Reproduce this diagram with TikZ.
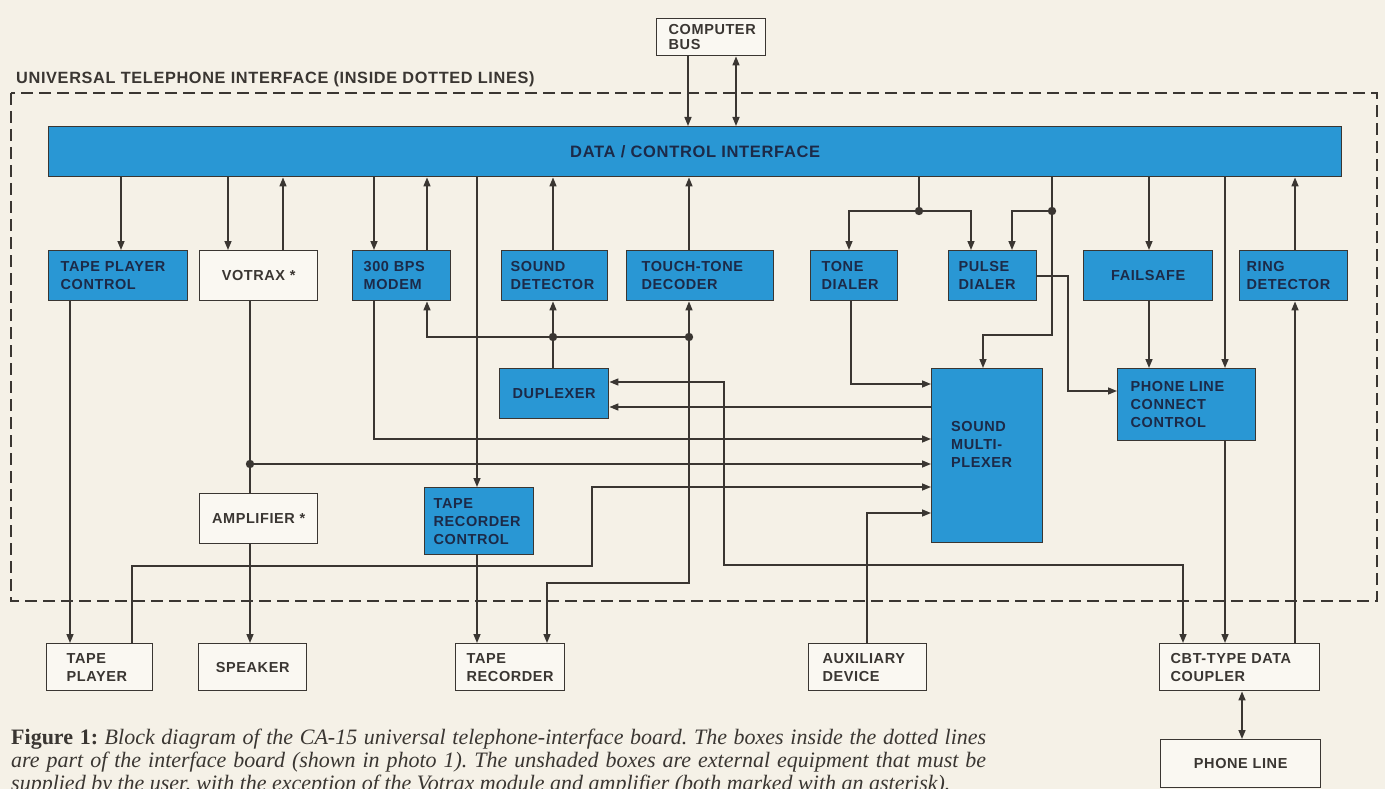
\documentclass[tikz,border=0pt]{standalone}
\usepackage{fontspec}
\setmainfont{Liberation Serif}
\newfontfamily\lbl{Liberation Sans}[LetterSpace=4]
\usetikzlibrary{arrows.meta}
\definecolor{bg}{RGB}{245,241,231}
\definecolor{ink}{RGB}{58,54,50}
\definecolor{blu}{RGB}{41,151,212}
\definecolor{navy}{RGB}{28,42,72}
\definecolor{wbox}{RGB}{250,248,242}
\tikzset{
  lblfont/.style={font=\lbl\bfseries\fontsize{14.5}{18}\selectfont},
  blk/.style={draw=ink, line width=1.4pt, fill=blu, text=navy, lblfont, align=left,
              inner ysep=0pt, anchor=north west},
  wbx/.style={draw=ink, line width=1.4pt, fill=wbox, text=ink, lblfont, align=left,
              inner ysep=0pt, anchor=north west},
  conn/.style={draw=ink, line width=1.5pt},
  jdot/.style={fill=ink},
}
\begin{document}
\frenchspacing
\begin{tikzpicture}[x=1pt, y=-1pt, >={Triangle[length=9pt,width=7pt]}]
\useasboundingbox (0,0) rectangle (1385,789);
\fill[bg] (0,0) rectangle (1385,789);

% dashed enclosure and title
\draw[ink, line width=1.8pt, dash pattern=on 12pt off 6pt] (11,93) rectangle (1377,601);
\node[font=\lbl\bfseries\fontsize{16.3}{18}\selectfont, text=ink, anchor=base west, inner sep=0pt] (title) at (16,84)
  {UNIVERSAL TELEPHONE INTERFACE (INSIDE DOTTED LINES)};

% bar
\node[blk, minimum width=1293pt, minimum height=50pt, inner xsep=0pt] (bar) at (48,126) {};
\node[font=\lbl\bfseries\fontsize{16.5}{18}\selectfont, text=navy, inner sep=0pt] (barlabel) at (bar.center) {DATA / CONTROL INTERFACE};

% external boxes
\node[wbx, inner xsep=12pt, text width=85pt, minimum height=37pt,
      font=\lbl\bfseries\fontsize{14.5}{15}\selectfont] (bus) at (656,18) {COMPUTER\\BUS};
\node[wbx, inner xsep=20pt, text width=66pt, minimum height=47pt] (tp) at (46,643) {TAPE\\PLAYER};
\node[wbx, inner xsep=6pt, text width=96pt, minimum height=47pt, align=center] (spk) at (198,643) {SPEAKER};
\node[wbx, inner xsep=11pt, text width=87pt, minimum height=47pt] (tr) at (455,643) {TAPE\\RECORDER};
\node[wbx, inner xsep=14pt, text width=90pt, minimum height=47pt] (aux) at (808,643) {AUXILIARY\\DEVICE};
\node[wbx, inner xsep=11pt, text width=138pt, minimum height=47pt] (cbt) at (1159,643) {CBT-TYPE DATA\\COUPLER};
\node[wbx, inner xsep=6pt, text width=148pt, minimum height=48pt, align=center] (pl) at (1160,739) {PHONE LINE};
\node[wbx, inner xsep=6pt, text width=106pt, minimum height=50pt, align=center] (votrax) at (199,250) {VOTRAX *};
\node[wbx, inner xsep=6pt, text width=106pt, minimum height=50pt, align=center] (amp) at (199,493) {AMPLIFIER *};

% interface boxes
\node[blk, inner xsep=12pt, text width=115pt, minimum height=50pt] (tpc) at (48,250) {TAPE PLAYER\\CONTROL};
\node[blk, inner xsep=11pt, text width=76pt, minimum height=50pt] (modem) at (352,250) {300 BPS\\MODEM};
\node[blk, inner xsep=9pt, text width=88pt, minimum height=50pt] (sd) at (501,250) {SOUND\\DETECTOR};
\node[blk, inner xsep=15pt, text width=117pt, minimum height=50pt] (ttd) at (626,250) {TOUCH-TONE\\DECODER};
\node[blk, inner xsep=11pt, text width=65pt, minimum height=50pt] (tone) at (810,250) {TONE\\DIALER};
\node[blk, inner xsep=10pt, text width=68pt, minimum height=50pt] (pulse) at (948,250) {PULSE\\DIALER};
\node[blk, inner xsep=6pt, text width=117pt, minimum height=50pt, align=center] (fail) at (1083,250) {FAILSAFE};
\node[blk, inner xsep=7pt, text width=94pt, minimum height=50pt] (ring) at (1239,250) {RING\\DETECTOR};
\node[blk, inner xsep=6pt, text width=97pt, minimum height=50pt, align=center] (dup) at (499,368) {DUPLEXER};
\node[blk, inner xsep=0pt, minimum width=111pt, minimum height=174pt] (sm) at (931,368) {};
\node[lblfont, text=navy, align=left, anchor=west, inner sep=0pt] (smlabel) at (951,444) {SOUND\\MULTI-\\PLEXER};
\node[blk, inner xsep=13pt, text width=112pt, minimum height=72pt] (plcc) at (1117,368) {PHONE LINE\\CONNECT\\CONTROL};
\node[blk, inner xsep=9pt, text width=91pt, minimum height=67pt] (trc) at (424,487) {TAPE\\RECORDER\\CONTROL};

% ports and junctions
\coordinate (xbusA) at (688,0);
\coordinate (xbusB) at (736,0);
\coordinate (tpcIn) at (121,250);
\coordinate (votIn) at (228,250);
\coordinate (votOut) at (283,250);
\coordinate (modIn) at (374,250);
\coordinate (modOut) at (427,250);
\coordinate (trcIn) at (477,487);
\coordinate (sdOut) at (553,250);
\coordinate (ttdOut) at (689,250);
\coordinate (toneIn) at (849,250);
\coordinate (pulIn1) at (971,250);
\coordinate (pulIn2) at (1012,250);
\coordinate (failIn) at (1149,250);
\coordinate (plccIn) at (1225,368);
\coordinate (ringOut) at (1295,250);
\coordinate (dA) at (919,211);
\coordinate (dB) at (1052,211);
\coordinate (dC) at (553,337);
\coordinate (dD) at (689,337);
\coordinate (dE) at (250,464);

% computer bus
\draw[conn,->] (bus.south -| xbusA) -- (bar.north -| xbusA);
\draw[conn,<->] (bus.south -| xbusB) -- (bar.north -| xbusB);

% bar to row boxes
\draw[conn,->] (bar.south -| tpcIn) -- (tpcIn);
\draw[conn,->] (bar.south -| votIn) -- (votIn);
\draw[conn,->] (votOut) -- (bar.south -| votOut);
\draw[conn,->] (bar.south -| modIn) -- (modIn);
\draw[conn,->] (modOut) -- (bar.south -| modOut);
\draw[conn,->] (bar.south -| trcIn) -- (trcIn);
\draw[conn,->] (sdOut) -- (bar.south -| sdOut);
\draw[conn,->] (ttdOut) -- (bar.south -| ttdOut);
\draw[conn] (bar.south -| dA) -- (dA);
\draw[conn,->] (dA) -| (toneIn);
\draw[conn,->] (dA) -| (pulIn1);
\draw[conn] (bar.south -| dB) -- (dB);
\draw[conn,->] (dB) -| (pulIn2);
\draw[conn,->] (dB) -- (1052,335) -| (sm.north -| 983,0);
\draw[conn,->] (bar.south -| failIn) -- (failIn);
\draw[conn,->] (fail.south -| failIn) -- (plcc.north -| failIn);
\draw[conn,->] (bar.south -| plccIn) -- (plccIn);
\draw[conn,->] (ringOut) -- (bar.south -| ringOut);

% detector / duplexer cluster
\draw[conn] (dup.north -| dC) -- (dC);
\draw[conn,->] (dC) -- (sd.south -| dC);
\draw[conn,->] (dD) -| (modem.south -| modOut);
\draw[conn,->] (dD) -- (ttd.south -| dD);
\draw[conn,->] (dD) -- (689,583) -| (tr.north -| 547,0);
\draw[conn,<->] (dup.east |- 0,382) -- (724,382) -- (724,565) -| (cbt.north -| 1183,0);
\draw[conn,->] (sm.west |- 0,407) -- (dup.east |- 0,407);

% into sound multiplexer
\draw[conn,->] (tone.south -| 851,0) |- (sm.west |- 0,384);
\draw[conn,->] (modem.south -| modIn) |- (sm.west |- 0,439);
\draw[conn] (votrax.south -| dE) -- (dE);
\draw[conn] (dE) -- (amp.north -| dE);
\draw[conn,->] (dE) -- (sm.west |- dE);
\draw[conn,->] (tp.north -| 132,0) -- (132,566) -- (592,566) |- (sm.west |- 0,487);
\draw[conn,->] (aux.north -| 867,0) |- (sm.west |- 0,513);

% pulse dialer to phone line connect
\draw[conn,->] (pulse.east |- 0,276) -- (1068,276) |- (plcc.west |- 0,391);

% down to external equipment
\draw[conn,->] (tpc.south -| 70,0) -- (tp.north -| 70,0);
\draw[conn,->] (amp.south -| dE) -- (spk.north -| dE);
\draw[conn,->] (trc.south -| trcIn) -- (tr.north -| trcIn);
\draw[conn,->] (plcc.south -| plccIn) -- (cbt.north -| plccIn);
\draw[conn,->] (cbt.north -| ringOut) -- (ring.south -| ringOut);
\draw[conn,<->] (cbt.south -| 1242,0) -- (pl.north -| 1242,0);

% junction dots
\foreach \d in {dA,dB,dC,dD,dE} \fill[jdot] (\d) circle (4.2pt);

% caption
\node[anchor=base west, inner sep=0pt, text=ink] (cap1) at (11,744)
  {\fontsize{22}{23}\selectfont\makebox[975pt][s]{\textbf{Figure 1:} \textit{Block diagram of the CA-15 universal telephone-interface board. The boxes inside the dotted lines}}};
\node[anchor=base west, inner sep=0pt, text=ink] (cap2) at (11,767)
  {\fontsize{22}{23}\selectfont\makebox[975pt][s]{\textit{are part of the interface board (shown in photo 1). The unshaded boxes are external equipment that must be}}};
\node[anchor=base west, inner sep=0pt, text=ink] (cap3) at (11,790)
  {\fontsize{22}{23}\selectfont\textit{supplied by the user, with the exception of the Votrax module and amplifier (both marked with an asterisk).}};
\end{tikzpicture}
\end{document}
